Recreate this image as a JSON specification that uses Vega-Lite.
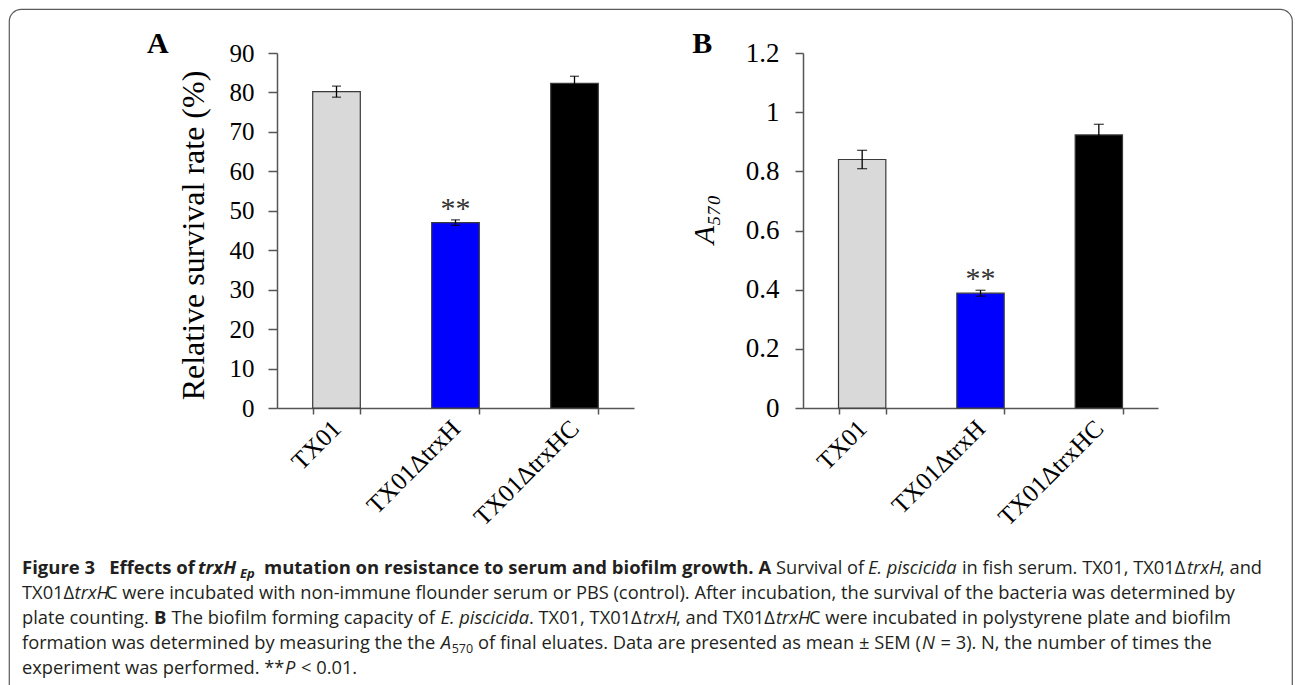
{
  "$schema": "https://vega.github.io/schema/vega-lite/v6.json",
  "width": 1283,
  "height": 720,
  "autosize": {"type": "none"},
  "padding": {"left": 9, "top": 9, "right": 3, "bottom": 0},
  "background": "white",
  "config": {
    "view": {"stroke": "#5a5a5a", "strokeWidth": 1.2, "cornerRadius": 12},
    "axis": {"grid": false}
  },
  "datasets": {
    "serum": [
      {"strain": "TX01", "value": 80.2, "err": 1.4, "sig": ""},
      {"strain": "TX01ΔtrxH", "value": 47.0, "err": 0.7, "sig": "**"},
      {"strain": "TX01ΔtrxHC", "value": 82.3, "err": 1.8, "sig": ""}
    ],
    "biofilm": [
      {"strain": "TX01", "value": 0.84, "err": 0.031, "sig": ""},
      {"strain": "TX01ΔtrxH", "value": 0.388, "err": 0.01, "sig": "**"},
      {"strain": "TX01ΔtrxHC", "value": 0.923, "err": 0.036, "sig": ""}
    ],
    "caption": [
      {"line": 1, "col": 13, "st": "b", "txt": "Figure 3\u2002 Effects of"},
      {"line": 1, "col": 189, "st": "bi", "txt": "trxH"},
      {"line": 1, "col": 231, "st": "bs", "txt": "Ep"},
      {"line": 1, "col": 255, "st": "b", "txt": "mutation on resistance to serum and biofilm growth. A"},
      {"line": 1, "col": 767, "st": "n", "txt": "Survival of"},
      {"line": 1, "col": 859, "st": "i", "txt": "E. piscicida"},
      {"line": 1, "col": 953, "st": "n", "txt": "in fish serum. TX01, TX01Δ"},
      {"line": 1, "col": 1178, "st": "i", "txt": "trxH"},
      {"line": 1, "col": 1211, "st": "n", "txt": ", and"},
      {"line": 2, "col": 13, "st": "n", "txt": "TX01Δ"},
      {"line": 2, "col": 65.6, "st": "i", "txt": "trxH"},
      {"line": 2, "col": 97, "st": "n", "txt": "C were incubated with non-immune flounder serum or PBS (control). After incubation, the survival of the bacteria was determined by"},
      {"line": 3, "col": 13, "st": "n", "txt": "plate counting."},
      {"line": 3, "col": 145, "st": "b", "txt": "B"},
      {"line": 3, "col": 162.5, "st": "n", "txt": "The biofilm forming capacity of"},
      {"line": 3, "col": 431.5, "st": "i", "txt": "E. piscicida"},
      {"line": 3, "col": 520, "st": "n", "txt": ". TX01, TX01Δ"},
      {"line": 3, "col": 634, "st": "i", "txt": "trxH"},
      {"line": 3, "col": 667, "st": "n", "txt": ", and TX01Δ"},
      {"line": 3, "col": 767, "st": "i", "txt": "trxH"},
      {"line": 3, "col": 800, "st": "n", "txt": "C were incubated in polystyrene plate and biofilm"},
      {"line": 4, "col": 13, "st": "n", "txt": "formation was determined by measuring the the"},
      {"line": 4, "col": 431.7, "st": "i", "txt": "A"},
      {"line": 4, "col": 442.7, "st": "s", "txt": "570"},
      {"line": 4, "col": 469, "st": "n", "txt": "of final eluates. Data are presented as mean ± SEM ("},
      {"line": 4, "col": 913, "st": "i", "txt": "N"},
      {"line": 4, "col": 931.5, "st": "n", "txt": "= 3). N, the number of times the"},
      {"line": 5, "col": 13, "st": "n", "txt": "experiment was performed. **"},
      {"line": 5, "col": 276, "st": "i", "txt": "P"},
      {"line": 5, "col": 292, "st": "n", "txt": "< 0.01."}
    ]
  },
  "layer": [
    {
      "data": {"name": "serum"},
      "encoding": {
        "x": {
          "field": "strain", "type": "nominal", "sort": null,
          "scale": {"range": [268, 625], "paddingInner": 0.6, "paddingOuter": 0.3},
          "axis": {
            "orient": "bottom", "offset": -321, "title": null, "tickBand": "extent",
            "tickSize": 6, "tickColor": "#555", "tickWidth": 1.5, "domainColor": "#555", "domainWidth": 1.5,
            "labelAngle": -45, "labelAlign": "right", "labelBaseline": "middle",
            "labelFont": "Liberation Serif", "labelFontSize": 25, "labelColor": "black",
            "labelPadding": 10, "labelOverlap": false, "labelLimit": 0
          }
        },
        "y": {
          "field": "value", "type": "quantitative", "title": "Relative survival rate (%)",
          "scale": {"domain": [0, 90], "range": [399, 44], "nice": false},
          "axis": {
            "orient": "left", "offset": -268, "values": [0, 10, 20, 30, 40, 50, 60, 70, 80, 90],
            "titleFont": "Liberation Serif", "titleFontSize": 32, "titleY": 226,
            "titleFontWeight": "normal", "titleColor": "black", "titlePadding": 19,
            "tickSize": 9, "tickColor": "#555", "tickWidth": 1.5, "domainColor": "#555", "domainWidth": 1.5,
            "labelFont": "Liberation Serif", "labelFontSize": 25, "labelColor": "black", "labelPadding": 14
          }
        }
      },
      "layer": [
        {
          "mark": {"type": "bar", "stroke": "#3a3a3a", "strokeWidth": 1.2},
          "encoding": {
            "color": {
              "field": "strain", "type": "nominal", "sort": null,
              "scale": {"domain": ["TX01", "TX01ΔtrxH", "TX01ΔtrxHC"], "range": ["#d9d9d9", "#0000ff", "#000000"]},
              "legend": null
            }
          }
        },
        {
          "mark": {"type": "errorbar", "color": "black", "thickness": 1.3, "ticks": {"size": 9}},
          "encoding": {"yError": {"field": "err"}}
        },
        {
          "mark": {"type": "text", "font": "Liberation Serif", "fontSize": 30, "color": "#333", "baseline": "alphabetic", "dy": -5},
          "encoding": {"text": {"field": "sig"}}
        },
        {
          "transform": [{"filter": "datum.strain === 'TX01'"}],
          "mark": {"type": "text", "text": "A", "font": "Liberation Serif", "fontWeight": "bold", "fontSize": 30, "align": "left", "baseline": "alphabetic", "dx": -189.5, "color": "black"},
          "encoding": {"x": {"datum": "TX01"}, "y": {"datum": 90}}
        }
      ]
    },
    {
      "data": {"name": "biofilm"},
      "encoding": {
        "x": {
          "field": "strain", "type": "nominal", "sort": null,
          "scale": {"range": [794, 1149], "paddingInner": 0.6, "paddingOuter": 0.3},
          "axis": {
            "orient": "bottom", "offset": -321, "title": null, "tickBand": "extent",
            "tickSize": 6, "tickColor": "#555", "tickWidth": 1.5, "domainColor": "#555", "domainWidth": 1.5,
            "labelAngle": -45, "labelAlign": "right", "labelBaseline": "middle",
            "labelFont": "Liberation Serif", "labelFontSize": 25, "labelColor": "black",
            "labelPadding": 10, "labelOverlap": false, "labelLimit": 0
          }
        },
        "y": {
          "field": "value", "type": "quantitative", "title": "A₅₇₀",
          "scale": {"domain": [0, 1.2], "range": [399, 44], "nice": false},
          "axis": {
            "orient": "left", "offset": -794, "values": [0, 0.2, 0.4, 0.6, 0.8, 1, 1.2], "format": "~g",
            "titleFont": "Liberation Serif", "titleFontSize": 30, "titleFontStyle": "italic", "titleY": 210,
            "titleFontWeight": "normal", "titleColor": "black", "titlePadding": 26,
            "tickSize": 8, "tickColor": "#555", "tickWidth": 1.5, "domainColor": "#555", "domainWidth": 1.5,
            "labelFont": "Liberation Serif", "labelFontSize": 27, "labelColor": "black", "labelPadding": 16
          }
        }
      },
      "layer": [
        {
          "mark": {"type": "bar", "stroke": "#3a3a3a", "strokeWidth": 1.2},
          "encoding": {
            "color": {
              "field": "strain", "type": "nominal", "sort": null,
              "scale": {"domain": ["TX01", "TX01ΔtrxH", "TX01ΔtrxHC"], "range": ["#d9d9d9", "#0000ff", "#000000"]},
              "legend": null
            }
          }
        },
        {
          "mark": {"type": "errorbar", "color": "black", "thickness": 1.3, "ticks": {"size": 10}},
          "encoding": {"yError": {"field": "err"}}
        },
        {
          "mark": {"type": "text", "font": "Liberation Serif", "fontSize": 30, "color": "#333", "baseline": "alphabetic", "dy": -5},
          "encoding": {"text": {"field": "sig"}}
        },
        {
          "transform": [{"filter": "datum.strain === 'TX01'"}],
          "mark": {"type": "text", "text": "B", "font": "Liberation Serif", "fontWeight": "bold", "fontSize": 30, "align": "left", "baseline": "alphabetic", "dx": -170, "color": "black"},
          "encoding": {"x": {"datum": "TX01"}, "y": {"datum": 1.2}}
        }
      ]
    },
    {
      "data": {"name": "caption"},
      "encoding": {
        "x": {"field": "col", "type": "quantitative", "scale": {"domain": [0, 1283], "range": [0, 1283], "nice": false, "zero": false}, "axis": null},
        "y": {"field": "line", "type": "quantitative", "scale": {"domain": [1, 5], "range": [565, 665], "nice": false, "zero": false}, "axis": null},
        "text": {"field": "txt"}
      },
      "layer": [
        {"transform": [{"filter": "datum.st === 'n'"}], "mark": {"type": "text", "align": "left", "baseline": "alphabetic", "font": "Open Sans", "fontSize": 18.3, "color": "#231f20"}},
        {"transform": [{"filter": "datum.st === 'b'"}], "mark": {"type": "text", "align": "left", "baseline": "alphabetic", "font": "Open Sans", "fontSize": 18.5, "fontWeight": "bold", "color": "#231f20"}},
        {"transform": [{"filter": "datum.st === 'i'"}], "mark": {"type": "text", "align": "left", "baseline": "alphabetic", "font": "Open Sans", "fontSize": 18.3, "fontStyle": "italic", "color": "#231f20"}},
        {"transform": [{"filter": "datum.st === 'bi'"}], "mark": {"type": "text", "align": "left", "baseline": "alphabetic", "font": "Open Sans", "fontSize": 18.5, "fontWeight": "bold", "fontStyle": "italic", "color": "#231f20"}},
        {"transform": [{"filter": "datum.st === 'bs'"}], "mark": {"type": "text", "align": "left", "baseline": "alphabetic", "font": "Open Sans", "fontSize": 13, "fontWeight": "bold", "fontStyle": "italic", "dy": 4, "color": "#231f20"}},
        {"transform": [{"filter": "datum.st === 's'"}], "mark": {"type": "text", "align": "left", "baseline": "alphabetic", "font": "Open Sans", "fontSize": 12.5, "dy": 4, "color": "#231f20"}}
      ]
    }
  ],
  "resolve": {
    "scale": {"x": "independent", "y": "independent"},
    "axis": {"x": "independent", "y": "independent"}
  }
}
